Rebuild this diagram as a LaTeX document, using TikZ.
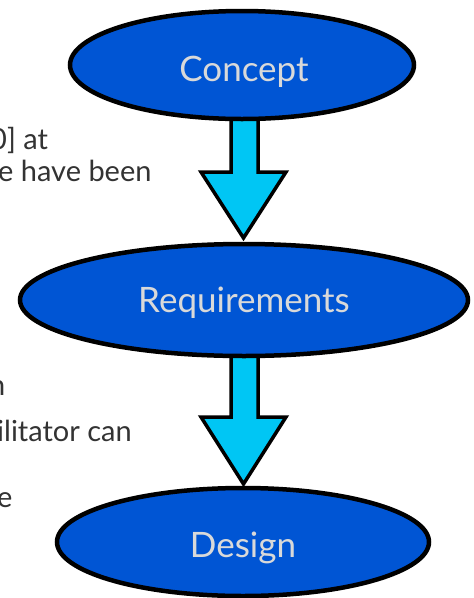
\documentclass[tikz,border=0pt]{standalone}
\usepackage{fontspec}
\setmainfont{Lato}
\usetikzlibrary{shapes.geometric}
\definecolor{ellblue}{HTML}{0055D4}
\definecolor{arrcyan}{HTML}{00C6F4}
\definecolor{elltext}{HTML}{D9D9D9}
\definecolor{sidetext}{HTML}{333333}
\tikzset{
  stage/.style={ellipse, draw=black, line width=4.5pt, fill=ellblue, inner sep=0pt},
  stagetext/.style={text=elltext, font=\fontsize{35}{40}\selectfont, inner sep=0pt, anchor=base},
  flowarrow/.style={draw=black, line width=3.5pt, fill=arrcyan, line join=miter},
  side/.style={anchor=base west, inner sep=0pt, text=sidetext, font=\fontsize{29}{34}\selectfont}
}
\begin{document}
\begin{tikzpicture}[x=1pt,y=-1pt]
\useasboundingbox (0,0) rectangle (474,598);
\begin{scope}
\clip (0,0) rectangle (474,598);
% side text fragments
\node[side] (t1) at (-10,149) {0] at};
\node[side] (t2) at (-2,181) {e have been};
\node[side] (t3) at (-11,395) {h};
\node[side] (t4) at (-3,441) {ilitator can};
\node[side] (t5) at (-3,507) {e};
% arrows
\draw[flowarrow] (231,117) -- (258,117) -- (258,172) -- (286,172) -- (243.5,238)
  -- (201,172) -- (231,172) -- cycle;
\draw[flowarrow] (231,355) -- (258,355) -- (258,417) -- (286,417) -- (243.5,484)
  -- (201,417) -- (231,417) -- cycle;
% ellipses
\node[stage, minimum width=344pt, minimum height=108pt] (concept) at (242,65) {};
\node[stage, minimum width=448pt, minimum height=112pt] (req) at (244,300) {};
\node[stage, minimum width=372pt, minimum height=108pt] (design) at (243,542) {};
\node[stagetext] (conceptlbl) at (244,81) {Concept};
\node[stagetext] (reqlbl) at (244,312) {Requirements};
\node[stagetext] (designlbl) at (243,557) {Design};
\end{scope}
\end{tikzpicture}
\end{document}
